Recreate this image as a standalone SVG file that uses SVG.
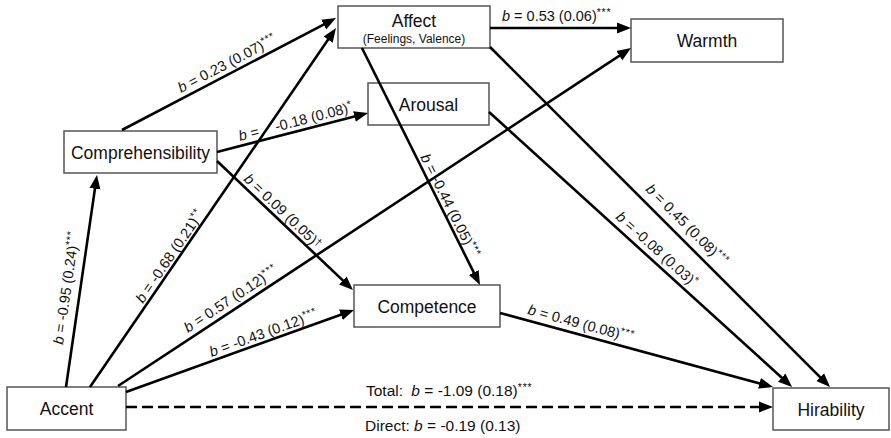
<svg xmlns="http://www.w3.org/2000/svg" width="891" height="438" viewBox="0 0 891 438">
<style>
.box{fill:#fff;stroke:#555;stroke-width:1.5}
.node{font-family:"Liberation Sans",Arial,sans-serif;font-size:17.5px;fill:#111;text-anchor:middle}
.sub{font-size:12px}
.edge{stroke:#000;stroke-width:2.6;fill:none;marker-end:url(#ah)}
.dash{stroke-dasharray:11 5}
.lbl{font-family:"Liberation Sans",Arial,sans-serif;font-size:14.5px;fill:#111}
.big{font-size:15.5px}
.b{font-style:italic}
.sup{font-size:10.5px;letter-spacing:0.8px}
</style>
<defs>
<marker id="ah" markerUnits="userSpaceOnUse" markerWidth="14" markerHeight="12" refX="8" refY="6" orient="auto">
<path d="M0,0.5 L14,6 L0,11.5 z" fill="#000"/>
</marker>
</defs>
<g id="node-affect">
<rect class="box" x="338" y="6" width="152" height="42"/>
<text class="node" x="414" y="27">Affect</text>
<text class="node sub" x="414" y="43">(Feelings, Valence)</text>
</g>
<g id="node-warmth">
<rect class="box" x="631" y="19" width="152" height="43"/>
<text class="node" x="707" y="47">Warmth</text>
</g>
<g id="node-arousal">
<rect class="box" x="368" y="83" width="121" height="42"/>
<text class="node" x="428.5" y="111">Arousal</text>
</g>
<g id="node-comprehensibility">
<rect class="box" x="64" y="131" width="153" height="42"/>
<text class="node" x="140.5" y="159">Comprehensibility</text>
</g>
<g id="node-competence">
<rect class="box" x="354" y="285" width="146" height="42"/>
<text class="node" x="427" y="313">Competence</text>
</g>
<g id="node-accent">
<rect class="box" x="7" y="387" width="119" height="43"/>
<text class="node" x="66.5" y="415">Accent</text>
</g>
<g id="node-hirability">
<rect class="box" x="773" y="388" width="116" height="42"/>
<text class="node" x="831" y="416">Hirability</text>
</g>
<g id="connectors">
<line class="edge" x1="66" y1="387" x2="96.1" y2="180.9"/>
<line class="edge" x1="122" y1="130" x2="330.7" y2="20.8"/>
<line class="edge" x1="90" y1="387" x2="332.6" y2="33"/>
<line class="edge" x1="217" y1="152" x2="362.2" y2="114.5"/>
<line class="edge" x1="217" y1="161" x2="348.6" y2="285.9"/>
<line class="edge" x1="118" y1="386" x2="626" y2="51.3"/>
<line class="edge" x1="126" y1="392" x2="348.4" y2="312"/>
<line class="edge" x1="490" y1="28" x2="625" y2="28"/>
<line class="edge" x1="362" y1="48" x2="477.3" y2="279.6"/>
<line class="edge" x1="490" y1="47" x2="825.8" y2="382.8"/>
<line class="edge" x1="489" y1="112" x2="787.6" y2="383"/>
<line class="edge" x1="500" y1="313" x2="767.2" y2="385.4"/>
<line class="edge dash" x1="126" y1="407" x2="767" y2="407"/>
</g>
<g id="labels">
<text class="lbl" transform="translate(181 93) rotate(-27.6)"><tspan class="b">b</tspan> = 0.23 (0.07)<tspan class="sup" dy="-5">***</tspan></text>
<text class="lbl" transform="translate(240 141) rotate(-14.5)"><tspan class="b">b</tspan> =<tspan dx="13"> -0.18 (0.08)</tspan><tspan class="sup" dy="-5">*</tspan></text>
<text class="lbl" transform="translate(243 180) rotate(43.5)"><tspan class="b">b</tspan> = 0.09 (0.05)<tspan class="sup" dy="-3">†</tspan></text>
<text class="lbl" transform="translate(63 345) rotate(-81.7)"><tspan class="b">b</tspan> = -0.95 (0.24)<tspan class="sup" dy="-5">***</tspan></text>
<text class="lbl" transform="translate(143 304) rotate(-55.6)"><tspan class="b">b</tspan> = -0.68 (0.21)<tspan class="sup" dy="-5">**</tspan></text>
<text class="lbl" transform="translate(188 333) rotate(-33.4)"><tspan class="b">b</tspan> = 0.57 (0.12)<tspan class="sup" dy="-5">***</tspan></text>
<text class="lbl" transform="translate(211.5 357) rotate(-19.8)"><tspan class="b">b</tspan> = -0.43 (0.12)<tspan class="sup" dy="-5">***</tspan></text>
<text class="lbl" x="502" y="21"><tspan class="b">b</tspan> = 0.53 (0.06)<tspan class="sup" dy="-5">***</tspan></text>
<text class="lbl" transform="translate(420 157) rotate(63.5)"><tspan class="b">b</tspan> = -0.44 (0.05)<tspan class="sup" dy="-5">***</tspan></text>
<text class="lbl" transform="translate(645 190) rotate(45)"><tspan class="b">b</tspan> = 0.45 (0.08)<tspan class="sup" dy="-5">***</tspan></text>
<text class="lbl" transform="translate(615 218) rotate(42.2)"><tspan class="b">b</tspan> = -0.08 (0.03)<tspan class="sup" dy="-5">*</tspan></text>
<text class="lbl" transform="translate(527 314) rotate(15.2)"><tspan class="b">b</tspan> = 0.49 (0.08)<tspan class="sup" dy="-5">***</tspan></text>
<text class="lbl big" x="366" y="396">Total: <tspan class="b" dx="4">b</tspan> = -1.09 (0.18)<tspan class="sup" dy="-5">***</tspan></text>
<text class="lbl big" x="365" y="431">Direct: <tspan class="b">b</tspan> = -0.19 (0.13)</text>
</g>
</svg>
